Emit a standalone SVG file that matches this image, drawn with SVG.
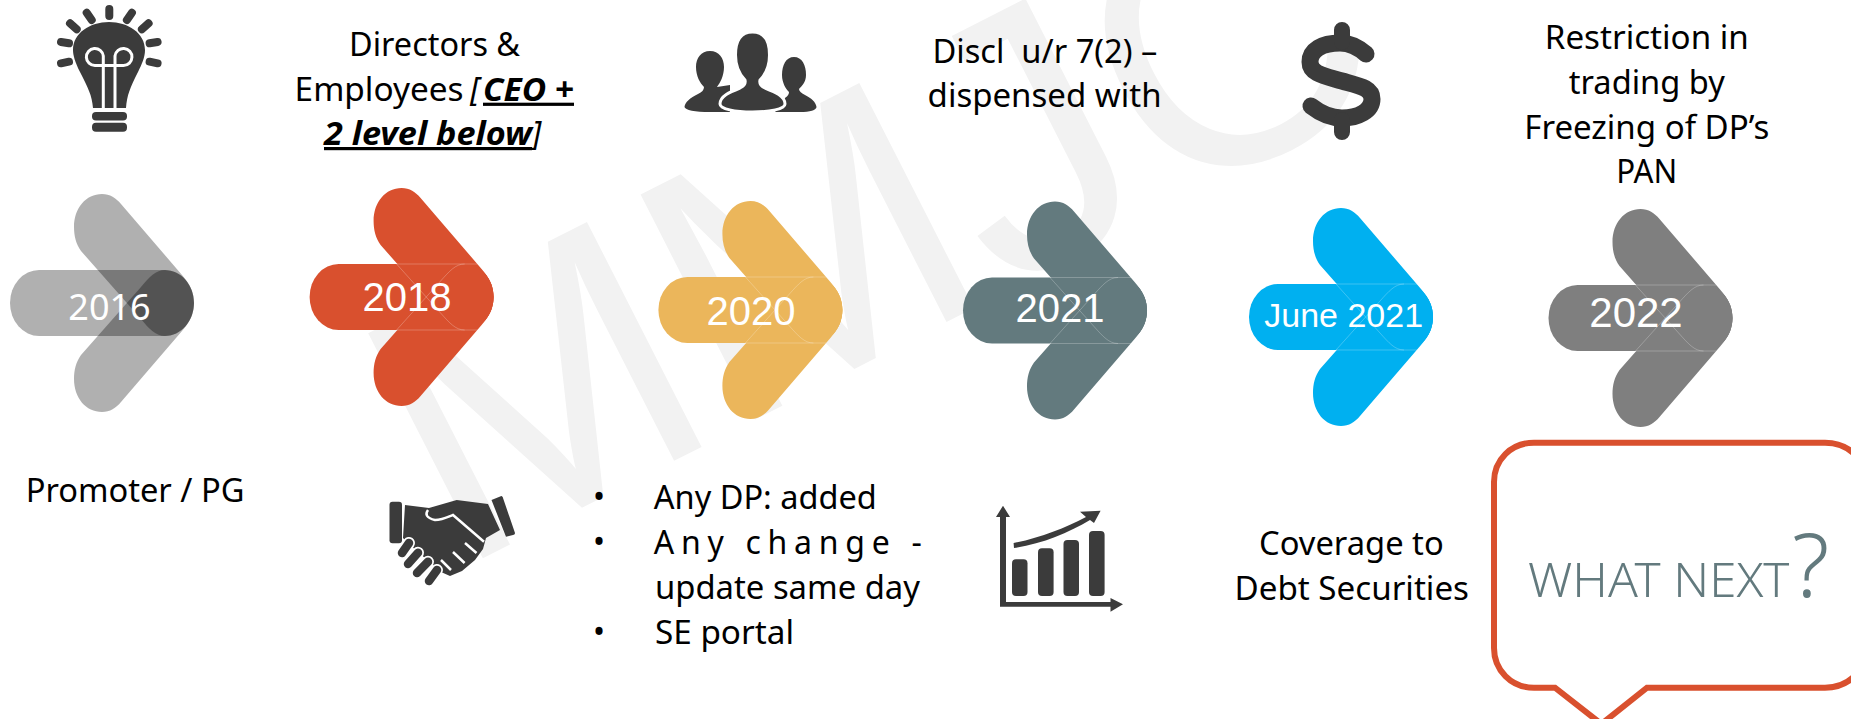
<svg xmlns="http://www.w3.org/2000/svg" width="1851" height="719" viewBox="0 0 1851 719">
<style>
.b{font-family:"Noto Sans","Open Sans",sans-serif;font-size:32px;fill:#000}
.m{text-anchor:middle}
.y{font-family:"Liberation Sans",Arial,sans-serif;font-size:40px;fill:#fff;text-anchor:middle}
.bi{font-weight:700;font-style:italic;text-decoration:underline}
.ic{fill:#3b3b3b}
.ray{stroke:#3b3b3b;stroke-width:8;stroke-linecap:round;fill:none}
.hl{fill:none;stroke:#fff;stroke-opacity:.3;stroke-width:.8}
.cut{fill:none;stroke:#fff;stroke-width:3}
</style>
<defs>
<g id="arrow">
<rect x="0" y="-33" width="184" height="66" rx="29" ry="33"/>
<path id="armU" d="M71,-52C66,-59 64,-67 64,-76C64,-95 76,-109 92,-109C100,-109 106,-105 111,-99L172,-28C180,-19 184,-10 184,0C184,18 171,33 155,33C146,33 139,26 131,16Z"/>
<path id="armD" d="M71,52C66,59 64,67 64,76C64,95 76,109 92,109C100,109 106,105 111,99L172,28C180,19 184,10 184,0C184,-18 171,-33 155,-33C146,-33 139,-26 131,-16Z"/>
<path class="hl" d="M87,-33H168M87,33H168M87,-33L131,16C140,26 146,33 155,33M87,33L131,-16C140,-26 146,-33 155,-33"/>
</g>
</defs>
<rect width="1851" height="719" fill="#fff"/>
<text id="watermark" x="456" y="572" transform="rotate(-27 456 572)" font-family="Liberation Sans, Arial, sans-serif" font-size="367" fill="#f2f2f2">MMJC</text>

<g id="node-2016" transform="translate(10,303)" fill="#000" fill-opacity=".31">
<rect x="0" y="-33" width="184" height="66" rx="29" ry="33"/>
<use href="#armU"/><use href="#armD"/>
<text x="99.5" y="16.5" font-family="Noto Sans, sans-serif" font-size="36" fill="#fff" fill-opacity="1" text-anchor="middle">2016</text>
</g>
<g id="node-2018" transform="translate(309.6,297)" fill="#d9502e"><use href="#arrow"/><text class="y" x="97.5" y="14">2018</text></g>
<g id="node-2020" transform="translate(658.4,310)" fill="#ebb65b"><use href="#arrow"/><text class="y" x="92.5" y="15">2020</text></g>
<g id="node-2021" transform="translate(963,310.5)" fill="#637a7e"><use href="#arrow"/><text class="y" x="97" y="11">2021</text></g>
<g id="node-june2021" transform="translate(1249,317)" fill="#00b0f0"><use href="#arrow"/><text class="y" x="94.7" y="10" font-size="34" style="font-size:34px">June 2021</text></g>
<g id="node-2022" transform="translate(1548.5,318)" fill="#7f7f7f"><use href="#arrow"/><text class="y" x="87.5" y="9" style="font-size:42px">2022</text></g>

<g id="label-directors">
<text class="b" x="294.6" y="56" dx="0" textLength="0" style="display:none"></text>
<text class="b m" x="434.6" y="56" textLength="171" lengthAdjust="spacingAndGlyphs">Directors &amp;</text>
<text class="b" x="294.6" y="100.7" textLength="169" lengthAdjust="spacingAndGlyphs">Employees</text>
<text class="b" x="470" y="100.7" font-style="italic">[</text>
<text class="b bi" x="483" y="100.7" textLength="91" lengthAdjust="spacingAndGlyphs">CEO +</text>
<text class="b bi" x="324" y="145" textLength="208" lengthAdjust="spacingAndGlyphs">2 level below</text>
<text class="b" x="532" y="145" font-style="italic">]</text>
</g>
<g id="label-discl">
<text class="b" x="932.4" y="63" textLength="225" lengthAdjust="spacingAndGlyphs" xml:space="preserve">Discl  u/r 7(2) –</text>
<text class="b" x="927.6" y="107" textLength="234" lengthAdjust="spacingAndGlyphs">dispensed with</text>
</g>
<g id="label-restriction">
<text class="b m" x="1646.8" y="49.3" textLength="204" lengthAdjust="spacingAndGlyphs">Restriction in</text>
<text class="b m" x="1646.8" y="94.3" textLength="156" lengthAdjust="spacingAndGlyphs">trading by</text>
<text class="b m" x="1646.8" y="139" textLength="245" lengthAdjust="spacingAndGlyphs">Freezing of DP’s</text>
<text class="b m" x="1646.8" y="183.3" textLength="61" lengthAdjust="spacingAndGlyphs">PAN</text>
</g>
<g id="label-promoter">
<text class="b" x="25.7" y="501.7" textLength="218.7" lengthAdjust="spacingAndGlyphs">Promoter / PG</text>
</g>
<g id="label-anydp">
<text class="b" x="593" y="508">•</text>
<text class="b" x="593" y="553">•</text>
<text class="b" x="593" y="643">•</text>
<text class="b" x="653.8" y="509" textLength="223" lengthAdjust="spacingAndGlyphs">Any DP: added</text>
<text class="b" x="653.8" y="554" textLength="268" lengthAdjust="spacing">Any change -</text>
<text class="b" x="655" y="599" textLength="265" lengthAdjust="spacingAndGlyphs">update same day</text>
<text class="b" x="655" y="644" textLength="139" lengthAdjust="spacingAndGlyphs">SE portal</text>
</g>
<g id="label-coverage">
<text class="b" x="1259" y="555" textLength="184.7" lengthAdjust="spacingAndGlyphs">Coverage to</text>
<text class="b" x="1234.5" y="600" textLength="234.5" lengthAdjust="spacingAndGlyphs">Debt Securities</text>
</g>

<g id="node-whatnext">
<path d="M1534,442.7H1825C1849,442.7 1866,460 1866,482V648C1866,670 1849,687.7 1825,687.7H1647L1601.4,724L1555,687.7H1534C1511,687.7 1494,670 1494,648V482C1494,460 1511,442.7 1534,442.7Z" fill="#fff" stroke="#d9502e" stroke-width="6"/>
<text x="1528" y="596.7" font-family="Noto Sans, sans-serif" font-weight="300" font-size="47" fill="#637a7e" textLength="261.5" lengthAdjust="spacingAndGlyphs">WHAT NEXT</text>
<text x="1792" y="596.7" font-family="Noto Sans, sans-serif" font-weight="300" font-size="88" fill="#637a7e">?</text>
</g>

<g id="icon-bulb">
<path class="ic" d="M93,108C92,95 88,88 80,72C75,62 73,55 73,50C73,33 90,22 109,22C128,22 145,33 145,50C145,57 142,64 138,72C130,88 127,95 126,108Z"/>
<path class="cut" d="M103.3,108V56A8.5,8.5 0 1 0 95,65.5H123.5A8.5,8.5 0 1 0 115,56V108"/>
<rect class="ic" x="92" y="112" width="35" height="8.5" rx="4"/>
<rect class="ic" x="92" y="122.7" width="35" height="9" rx="4"/>
<path class="ray" d="M109.3,9V16M86.7,12.7L91.7,20M131.9,12.7L126.9,20M70,23.3L76.7,29.3M148.6,23.3L141.9,29.3M61,42L69,43.3M157.6,42L149.6,43.3M61,63.3L69,61.7M157.6,63.3L149.6,61.7"/>
</g>
<g id="icon-people">
<path class="ic" d="M710,51C701,51 696,58 696,67C696,76 700,83 704,87C704,90 702,92 698,94C690,98 685,102 684.5,107C685,110 695,112 710,112H730V85L717,87C720,83 724,76 724,67C724,58 719,51 710,51Z"/>
<path class="ic" d="M794,57C786,57 782,65 782,75C782,83 786,89 789,92C789,94 788,96 785,98L775,112H800C810,112 816.5,110 816.5,107C816,102 811,98 805,95C801,93 799,91 799,89C802,86 806,82 806,75C806,65 802,57 794,57Z"/>
<path class="ic" d="M752.5,32C741,32 735.5,41 735.5,55C735.5,68 741,76 745,80C746,84 744,86 740,88C730,92 720,96 720,104C720,109 735,112 752.5,112C770,112 785,109 785,104C785,96 775,92 765,88C761,86 759,84 760,80C764,76 769.5,68 769.5,55C769.5,41 764,32 752.5,32Z" stroke="#fff" stroke-width="3"/>
</g>
<g id="icon-dollar">
<path d="M1366,54C1358,47 1350,43 1340,43C1322,43 1310,50 1310,62C1310,74 1325,76 1342,81C1360,86 1372,88 1372,99C1372,111 1358,118 1342,118C1330,118 1320,113 1311,106" fill="none" stroke="#3b3b3b" stroke-width="17" stroke-linecap="round"/>
<path d="M1342,30V42M1342,120V132" fill="none" stroke="#3b3b3b" stroke-width="16" stroke-linecap="round"/>
</g>
<g id="icon-handshake">
<rect class="ic" x="389.5" y="501.7" width="12.5" height="41.6" rx="3"/>
<path class="ic" d="M491.5,500L501.4,496C502,496 503,497 503,498L515,533C515,534 514,535 513,535L506,536.7Z"/>
<path class="ic" d="M405,505L429,508L456.7,500L488,504L500,530L486,538L483,549L475,560L462,571L450,576L441,572L410,545L403,538Z"/>
<path class="cut" style="stroke-width:2.5" d="M428,510C425,514 426,518 435,520C442,520 448,517 453,515L484,541.7"/>
<path class="cut" style="stroke-width:2.5" d="M465,543L476.5,553M453,552L464.6,563M441,560L451,570"/>
<path d="M402,553L409,543M408,564L418,552.7M417,573L428,561.7M429,581L437,570" fill="none" stroke="#fff" stroke-width="12" stroke-linecap="round"/>
<path d="M402,553L409,543M408,564L418,552.7M417,573L428,561.7M429,581L437,570" fill="none" stroke="#3b3b3b" stroke-width="8.5" stroke-linecap="round"/>
</g>
<g id="icon-chart">
<path class="ic" d="M1003,505.7L1010,517H1006V602H1110.5V598L1123,604.3L1110.5,611.7V606.8H1000V517H996Z"/>
<rect class="ic" x="1012" y="559.3" width="15.5" height="36.7" rx="4"/>
<rect class="ic" x="1038" y="548.3" width="15.6" height="47.7" rx="4"/>
<rect class="ic" x="1063.5" y="540" width="15.5" height="56" rx="4"/>
<rect class="ic" x="1089" y="531" width="15.6" height="65" rx="4"/>
<path class="ic" d="M1013.6,543C1040,538 1065,528 1086,517L1080,511.7L1100.6,510.7L1094,523L1090,520C1068,533 1042,544 1014,548Z"/>
</g>
</svg>
